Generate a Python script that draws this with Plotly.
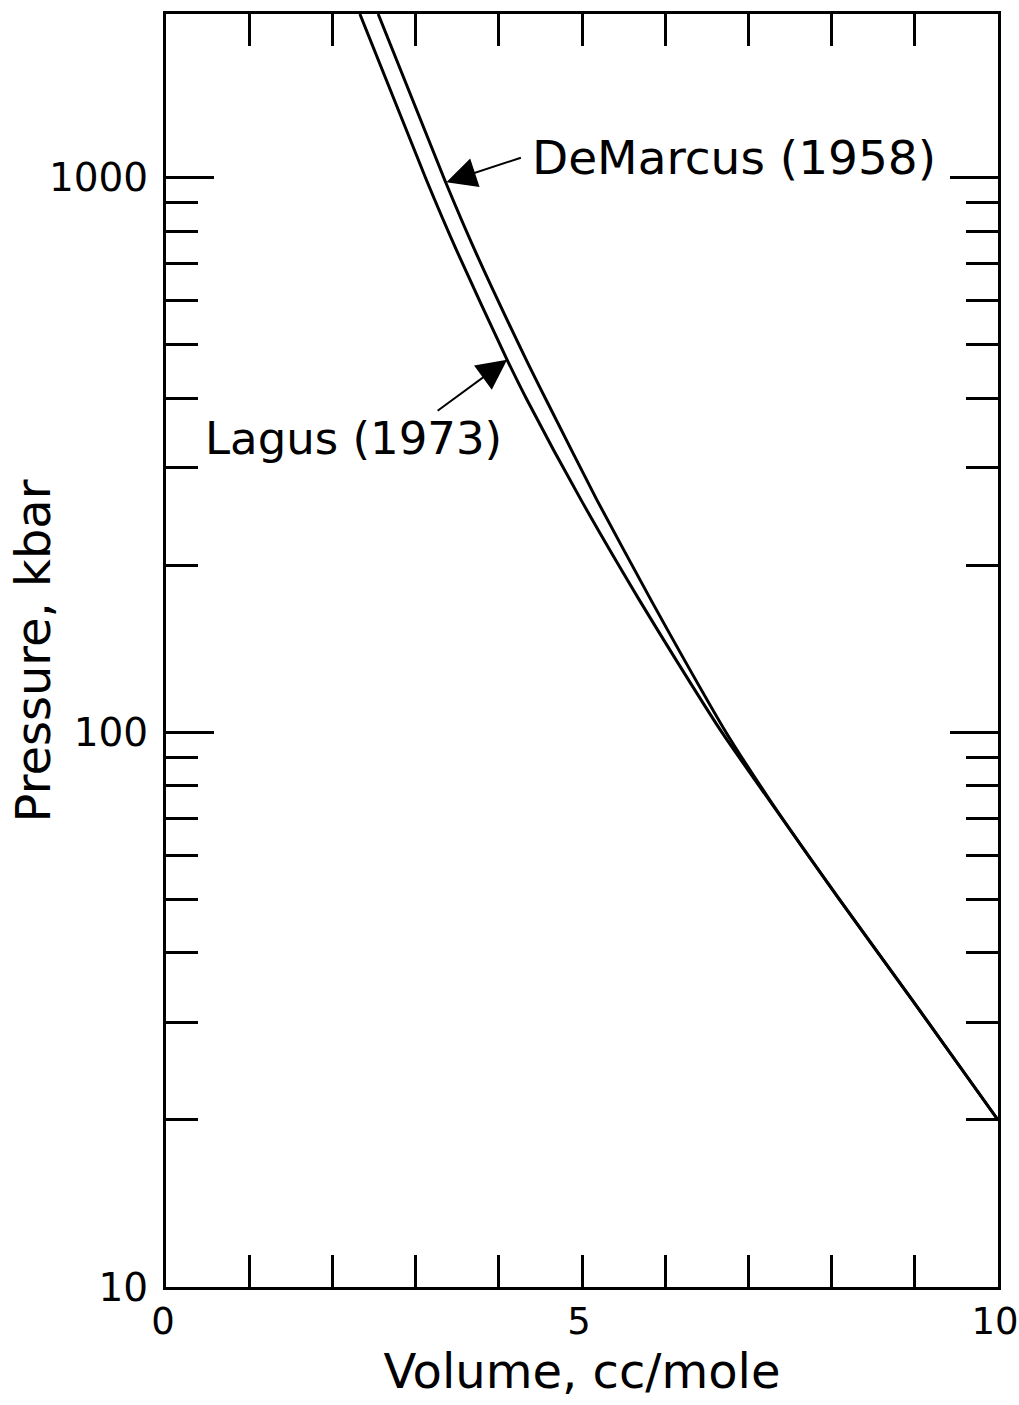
import numpy as np
import plotly.graph_objects as go

# Pressure-volume curves (volume in cc/mole, pressure in kbar)
volume_lagus = [2.33, 3.13, 3.49, 4.10, 4.34, 4.99, 5.69, 6.13, 6.68, 7.25, 8.10, 8.97, 10.0]
pressure_lagus = [1970, 989, 740, 469, 397, 262, 173, 135, 100, 75.4, 49.8, 32.9, 20.0]

volume_demarcus = [2.55, 3.35, 3.71, 4.33, 4.57, 5.18, 5.83, 6.23, 6.73, 7.26, 8.10, 8.97, 10.0]
pressure_demarcus = [1970, 989, 740, 469, 397, 262, 173, 135, 100, 75.4, 49.8, 32.9, 20.0]

x_ticks = list(range(0, 11))
x_tick_labels = ["0", "", "", "", "", "5", "", "", "", "", "10"]
y_major = [10, 100, 1000]
y_major_labels = ["10", "100", "1000"]
y_minor = [m * d for d in (10, 100) for m in range(2, 10)]

FONT = "DejaVu Sans"
INK = "black"

fig = go.Figure()
for vols, press, name in [(volume_lagus, pressure_lagus, "Lagus (1973)"),
                          (volume_demarcus, pressure_demarcus, "DeMarcus (1958)")]:
    fig.add_trace(go.Scatter(
        x=vols, y=press, mode="lines", name=name,
        line=dict(color=INK, width=3, shape="spline", smoothing=0.6),
        showlegend=False, cliponaxis=True,
    ))

# Leader arrows pointing at each curve
arrow_style = dict(showarrow=True, arrowhead=2, arrowsize=3, arrowwidth=2,
                   arrowcolor=INK, text="", xref="x", yref="y")
fig.add_annotation(x=3.37, y=np.log10(980), ax=76, ay=-25, **arrow_style)
fig.add_annotation(x=4.10, y=np.log10(469), ax=-71, ay=52, **arrow_style)

label_font = dict(family=FONT, size=47, color=INK)
fig.add_annotation(x=4.375, y=np.log10(1088), text="DeMarcus (1958)", showarrow=False,
                   xanchor="left", yanchor="middle", font=label_font)
fig.add_annotation(x=0.44, y=np.log10(339), text="Lagus (1973)", showarrow=False,
                   xanchor="left", yanchor="middle", font=dict(family=FONT, size=45, color=INK))

# Vertical axis title
fig.add_annotation(x=-0.160, y=0.5, xref="paper", yref="paper", text="Pressure, kbar",
                   textangle=-90, showarrow=False, xanchor="center", yanchor="middle",
                   font=dict(family=FONT, size=48, color=INK))

axis_common = dict(
    showline=True, linewidth=3, linecolor=INK, mirror="ticks",
    ticks="inside", tickcolor=INK, tickwidth=2.5,
    showgrid=False, zeroline=False,
    ticklabeloverflow="allow",
)

fig.update_xaxes(
    range=[0, 10], tickmode="array", tickvals=x_ticks, ticktext=x_tick_labels,
    ticklen=32, ticklabelstandoff=0, ticklabelshift=-3,
    tickfont=dict(family=FONT, size=37, color=INK),
    title=dict(text="Volume, cc/mole", font=dict(family=FONT, size=48, color=INK), standoff=2),
    **axis_common,
)
fig.update_yaxes(
    type="log", range=[1, np.log10(1970)], tickmode="array",
    tickvals=y_major, ticktext=y_major_labels, ticklen=48, ticklabelstandoff=7,
    tickfont=dict(family=FONT, size=39, color=INK),
    minor=dict(tickmode="array", tickvals=y_minor, ticks="inside", ticklen=32,
               tickwidth=2.5, tickcolor=INK, showgrid=False),
    **axis_common,
)

fig.update_layout(
    width=1019, height=1405,
    margin=dict(l=166, r=21, t=14, b=118, autoexpand=False),
    plot_bgcolor="white", paper_bgcolor="white",
)

fig.write_html("out.html")
